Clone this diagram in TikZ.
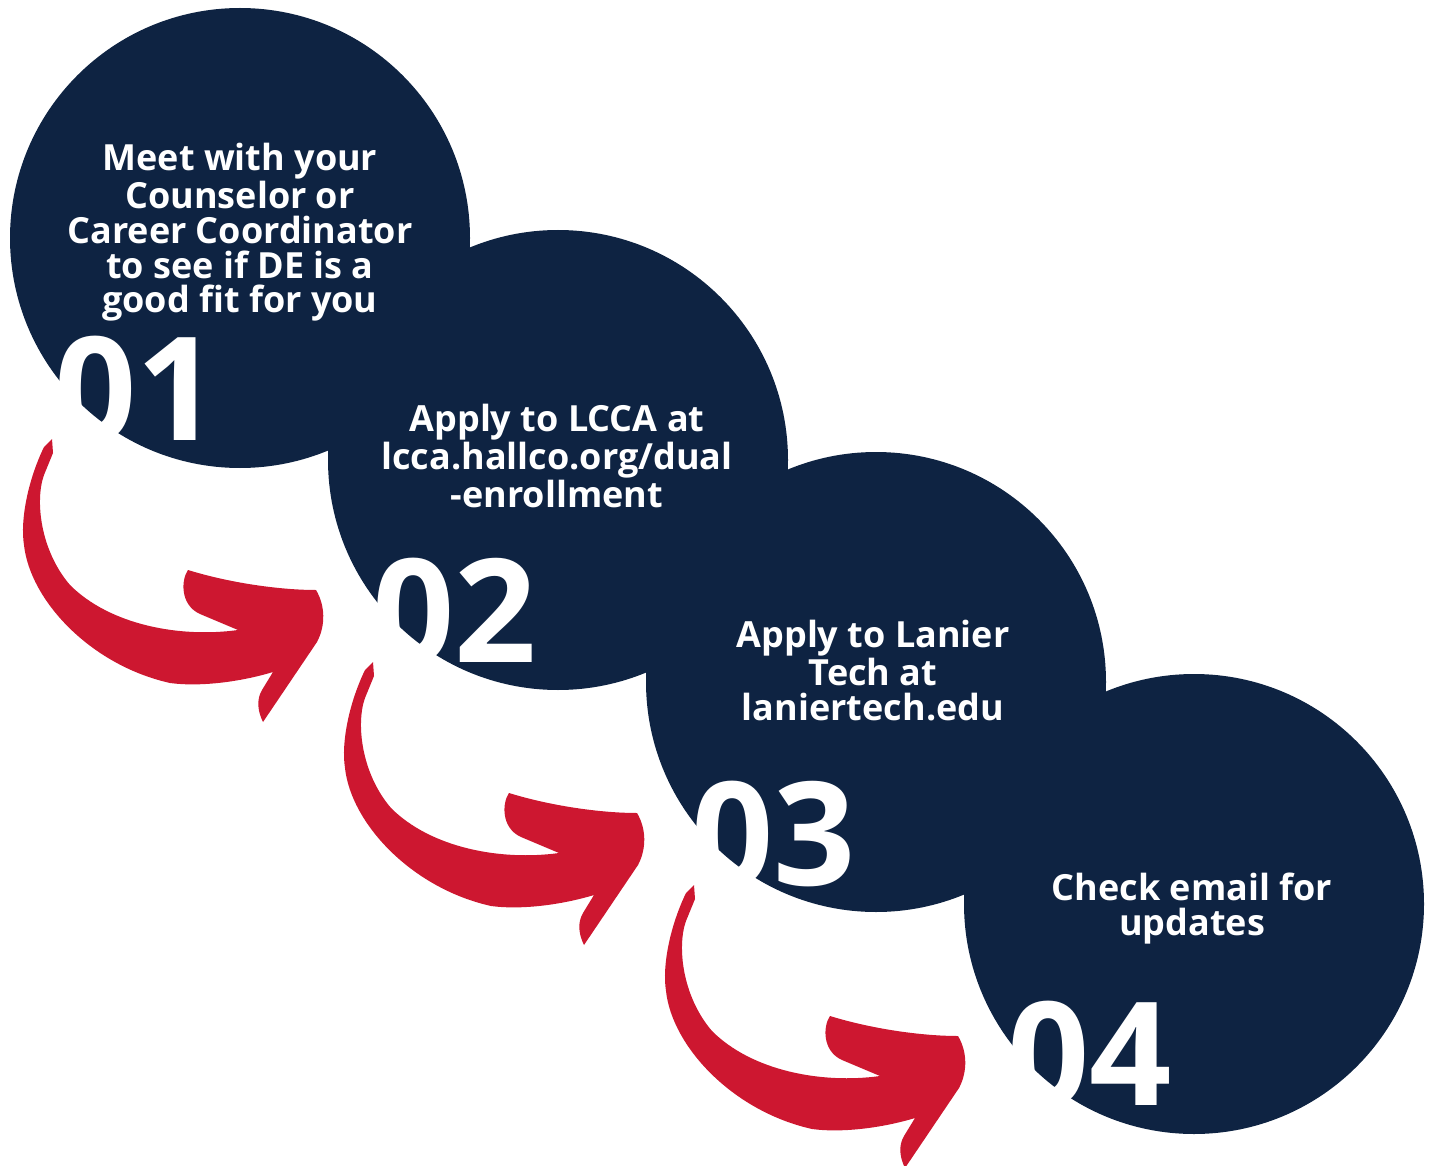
\documentclass[tikz,border=0pt]{standalone}
\usepackage{fontspec}
\setmainfont{Open Sans}
\definecolor{navy}{HTML}{0E2342}
\definecolor{arrowred}{HTML}{CD1730}
\tikzstyle{stepdot}=[circle,fill=navy,minimum size=230pt,inner sep=0pt]
\tikzstyle{steptext}=[text=white,font=\bfseries\fontsize{18}{17.4}\selectfont,align=center,anchor=base,inner sep=0pt]
\tikzstyle{stepnum}=[text=white,font=\bfseries\fontsize{72}{72}\selectfont,anchor=base west,inner sep=0pt]
\tikzstyle{redbend}=[fill=arrowred]

\begin{document}
\begin{tikzpicture}[x=0.5pt,y=-0.5pt]
  \useasboundingbox (0,0) rectangle (1429,1166);
  % First we draw the circles
  \foreach \pos/\name in {{(240,238)/c1}, {(558,460)/c2}, {(876,682)/c3}, {(1194,904)/c4}}
  \node[stepdot] (\name) at \pos {};

  % Red arrows from one step to the next
  \foreach \dx/\dy in {0/0, 321/223, 642/446}
  \path[redbend, shift={(\dx,\dy)}] (52,439) -- (44,447)
    .. controls (28,480) and (20,520) .. (24,545)
    .. controls (30,600) and (90,665) .. (170,683)
    .. controls (200,687) and (240,682) .. (273,672)
    -- (262,690) .. controls (256,700) and (258,712) .. (263,722)
    -- (317,642) .. controls (326,625) and (325,605) .. (316,590)
    .. controls (280,590) and (230,583) .. (188,570)
    .. controls (181,580) and (180,605) .. (200,614)
    -- (238,630)
    .. controls (180,638) and (110,625) .. (70,585)
    .. controls (40,550) and (35,500) .. (44,475)
    -- (53,453) -- cycle;

  % Texts inside the circles (placed at the last baseline)
  \node[steptext] (t1) at (240,313) {Meet with your\\Counselor or\\Career Coordinator\\to see if DE is a\\good fit for you};
  \node[steptext] (t2) at (557,507) {Apply to LCCA at\\lcca.hallco.org/dual\\-enrollment};
  \node[steptext] (t3) at (873,720) {Apply to Lanier\\Tech at\\laniertech.edu};
  \node[steptext] (t4) at (1192,935) {Check email for\\updates};

  % Big step numbers
  \foreach \pos/\num in {{(54,440)/01}, {(372,662)/02}, {(691,885)/03}, {(1007,1105)/04}}
  \node[stepnum] (n\num) at \pos {\num};
\end{tikzpicture}
\end{document}
